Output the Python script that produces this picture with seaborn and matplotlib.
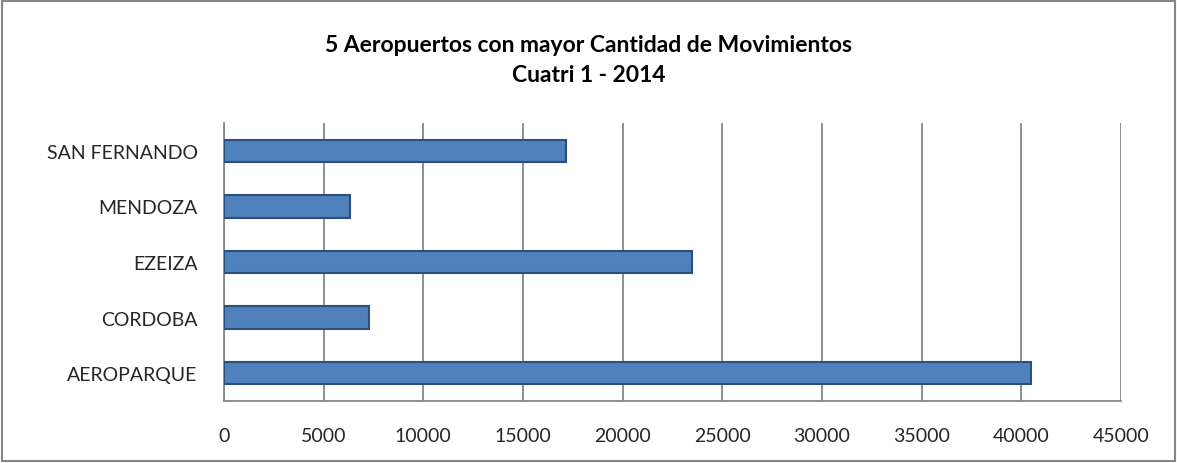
import pandas as pd
import matplotlib.pyplot as plt
import seaborn as sns
from matplotlib.patches import Rectangle

# Data
airports = ["SAN FERNANDO", "MENDOZA", "EZEIZA", "CORDOBA", "AEROPARQUE"]
movements = [17150, 6300, 23490, 7255, 40510]
x_ticks = list(range(0, 45001, 5000))

df = pd.DataFrame({"Aeropuerto": airports, "Movimientos": movements})

sns.set_style("white")
plt.rcParams["font.family"] = ["Lato", "DejaVu Sans"]

fig = plt.figure(figsize=(11.77, 4.64), dpi=100)
ax = fig.add_axes([0.1903, 0.1336, 0.7621, 0.5992])

sns.barplot(data=df, x="Movimientos", y="Aeropuerto", order=airports,
            color="#4F81BD", saturation=1, width=0.4,
            edgecolor="#2C4F7C", linewidth=1.5, ax=ax, zorder=3)

ax.set_xlim(0, 45000)
ax.set_ylim(4.5, -0.5)
ax.set_xticks(x_ticks)
ax.set_xticklabels([str(v) for v in x_ticks], fontsize=14)
ax.set_xlabel("")
ax.set_ylabel("")
ax.tick_params(axis="y", which="major", length=0, pad=19, labelsize=14)
ax.set_yticks([i - 0.5 for i in range(len(airports) + 1)], minor=True)
ax.tick_params(axis="y", which="minor", length=7, color="#868686", width=1.2)
ax.tick_params(axis="x", length=7, color="#868686", width=1.2, pad=12)
ax.grid(axis="x", color="#868686", linewidth=1.3, zorder=0)
ax.set_axisbelow(True)

for side in ["top", "right"]:
    ax.spines[side].set_visible(False)
for side in ["left", "bottom"]:
    ax.spines[side].set_color("#868686")
    ax.spines[side].set_linewidth(1.3)

fig.text(0.5, 0.903, "5 Aeropuertos con mayor Cantidad de Movimientos",
         ha="center", va="center", fontsize=16.5, fontweight="bold", color="black")
fig.text(0.5, 0.838, "Cuatri 1 - 2014",
         ha="center", va="center", fontsize=16.5, fontweight="bold", color="black")

fig.patches.append(Rectangle((0.002, 0.004), 0.996, 0.992, transform=fig.transFigure,
                             fill=False, edgecolor="#868686", linewidth=1.5))

fig.savefig("out.png", dpi=100)
